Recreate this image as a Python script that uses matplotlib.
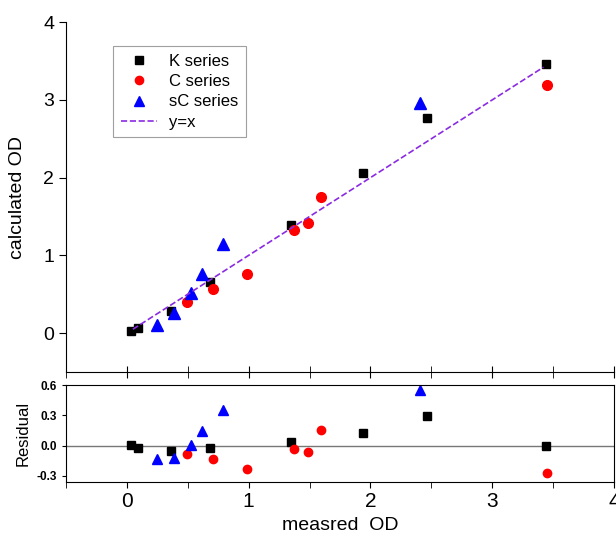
import matplotlib
matplotlib.use("Agg")
from matplotlib import pyplot as plt

plt.rcParams['font.family'] = ['Liberation Sans', 'DejaVu Sans']

k_meas = [0.038, 0.09, 0.36, 0.685, 1.344, 1.936, 2.464, 3.443]
k_calc = [0.03, 0.06, 0.29, 0.655, 1.388, 2.065, 2.763, 3.457]
k_res = [0.003, -0.023, -0.057, -0.027, 0.04, 0.123, 0.293, 0.0]

c_meas = [0.496, 0.707, 0.989, 1.37, 1.488, 1.594, 3.45]
c_calc = [0.397, 0.565, 0.754, 1.332, 1.418, 1.754, 3.185]
c_res = [-0.083, -0.13, -0.23, -0.033, -0.06, 0.16, -0.273]

sc_meas = [0.25, 0.387, 0.525, 0.614, 0.787, 2.406]
sc_calc = [0.108, 0.259, 0.517, 0.763, 1.142, 2.961]
sc_res = [-0.133, -0.117, 0.007, 0.15, 0.353, 0.55]

line_x = [0.05, 3.42]

fig = plt.figure(figsize=(6.16, 5.35), dpi=100)
ax = fig.add_axes([0.107, 0.3047, 0.890, 0.654])
ax2 = fig.add_axes([0.107, 0.099, 0.890, 0.181])

ax.plot(k_meas, k_calc, 's', color='black', ms=6, label='K series')
ax.plot(c_meas, c_calc, 'o', color='red', ms=7, label='C series')
ax.plot(sc_meas, sc_calc, '^', color='blue', ms=8, label='sC series')
ax.plot(line_x, line_x, '--', color='#8a2be2', lw=1.2, label='y=x')

ax.set_xlim(-0.5, 4)
ax.set_ylim(-0.5, 4)
ax.set_yticks([0, 1, 2, 3, 4])
ax.set_xticks([0, 1, 2, 3, 4])
ax.set_xticks([-0.5, 0.5, 1.5, 2.5, 3.5], minor=True)
ax.spines['top'].set_visible(False)
ax.spines['right'].set_visible(False)
ax.tick_params(axis='x', which='both', direction='inout', length=9, labelbottom=False)
ax.tick_params(axis='y', direction='out', length=5, labelsize=14)
ax.set_ylabel('calculated OD', fontsize=14, labelpad=12)

leg = ax.legend(loc='upper left', bbox_to_anchor=(0.086, 0.931), borderaxespad=0,
                fontsize=12, frameon=True, fancybox=False, edgecolor='#888888',
                handlelength=2.2, handletextpad=0.7, borderpad=0.45,
                labelspacing=0.32, markerscale=0.85)
leg.get_frame().set_linewidth(0.8)

ax2.axhline(0, color='#777777', lw=1)
ax2.plot(k_meas, k_res, 's', color='black', ms=5.5)
ax2.plot(c_meas, c_res, 'o', color='red', ms=6)
ax2.plot(sc_meas, sc_res, '^', color='blue', ms=7)
ax2.set_xlim(-0.5, 4)
ax2.set_ylim(-0.36, 0.6)
ax2.set_yticks([-0.3, 0.0, 0.3, 0.6])
ax2.set_yticklabels(['-0.3', '0.0', '0.3', '0.6'], fontweight='bold', fontsize=8.5)
ax2.set_xticks([0, 1, 2, 3, 4])
ax2.set_xticks([-0.5, 0.5, 1.5, 2.5, 3.5], minor=True)
ax2.tick_params(axis='x', which='both', direction='out', length=4, labelsize=15)
ax2.tick_params(axis='y', direction='out', length=3)
ax2.set_ylabel('Residual', fontsize=12)
ax2.set_xlabel('measred  OD', fontsize=14)
for s in ax2.spines.values():
    s.set_linewidth(0.8)

fig.savefig('out.png', dpi=100)
